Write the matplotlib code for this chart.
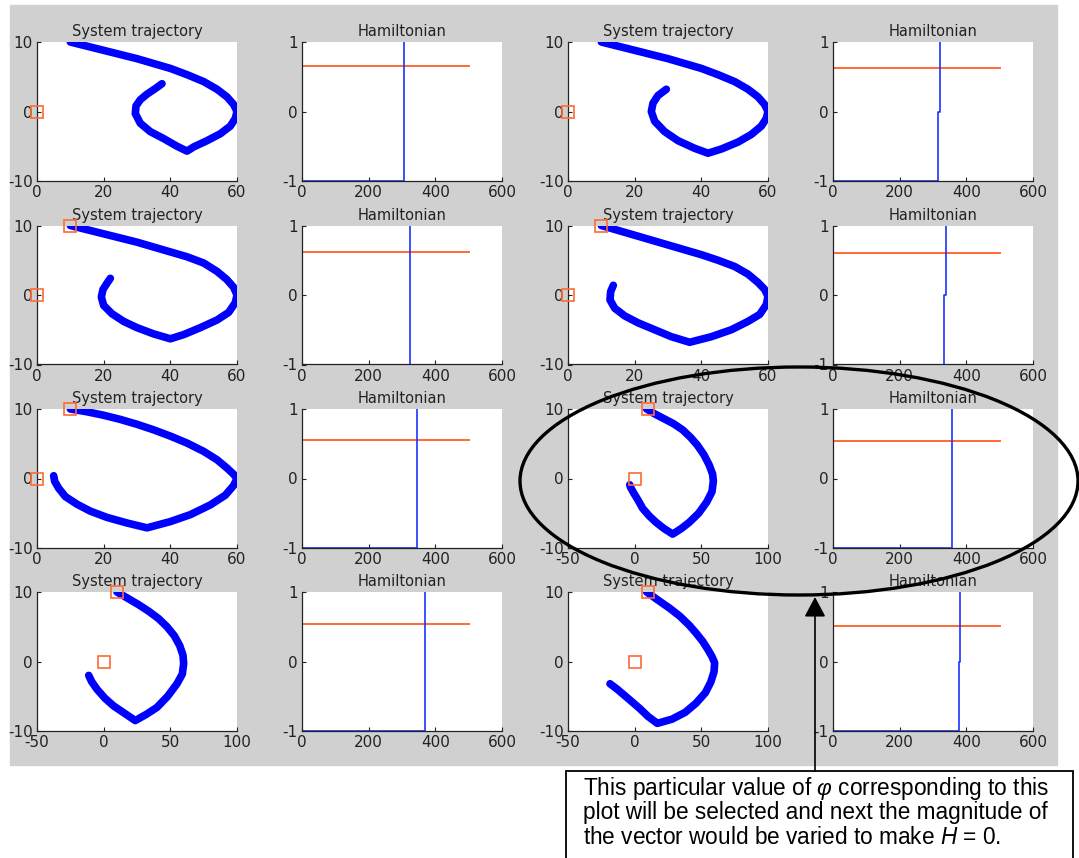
import matplotlib
matplotlib.use("Agg")
import matplotlib.pyplot as plt
from matplotlib.patches import Rectangle, Ellipse

plt.rcParams["font.family"] = ["DejaVu Sans"]
plt.rcParams["axes.unicode_minus"] = False
plt.rcParams["mathtext.fontset"] = "custom"
plt.rcParams["mathtext.it"] = "Liberation Sans:italic"
plt.rcParams["mathtext.rm"] = "Liberation Sans"

# trajectories, one per "System trajectory" panel (row by row)
traj1_x = [10, 15, 20, 25, 30, 35, 40, 45, 50, 54, 57, 59, 60, 59.5, 58, 55, 51, 47, 45, 42, 38, 34, 31, 29.5, 29.7, 31, 33, 35.5, 37.5]
traj1_y = [10, 9.4, 8.8, 8.2, 7.6, 6.9, 6.2, 5.3, 4.3, 3.2, 2.1, 1.0, 0, -1.0, -2.1, -3.2, -4.2, -5.1, -5.7, -5.0, -3.9, -2.9, -1.7, -0.3, 0.8, 1.7, 2.5, 3.3, 4.0]

traj2_x = [10, 15, 20, 25, 30, 35, 40, 45, 50, 54, 57, 59, 60, 59.5, 58, 55, 51, 46, 42, 38, 33, 29, 26, 25, 25.5, 27, 29.5]
traj2_y = [10, 9.4, 8.8, 8.2, 7.6, 6.9, 6.2, 5.3, 4.3, 3.2, 2.1, 1.0, 0, -1.0, -2.1, -3.3, -4.4, -5.4, -6.0, -5.3, -4.2, -2.9, -1.4, 0, 1.2, 2.3, 3.2]

traj3_x = [10, 15, 20, 25, 30, 35, 40, 45, 50, 54, 57, 59, 60, 59.5, 57.5, 54, 49, 44, 40, 35, 30, 26, 22.5, 20, 19.3, 19.8, 21, 22]
traj3_y = [10, 9.4, 8.8, 8.2, 7.6, 6.9, 6.2, 5.5, 4.6, 3.4, 2.2, 1.1, 0, -1.1, -2.5, -3.6, -4.7, -5.7, -6.3, -5.6, -4.7, -3.8, -2.7, -1.5, -0.3, 0.8, 1.7, 2.4]

traj4_x = [10, 15, 20, 25, 30, 35, 40, 45, 50, 54, 57, 59, 60, 59.5, 57.5, 54, 49, 43, 36.5, 31, 26, 21, 17, 14, 12.6, 12.8, 13.6]
traj4_y = [10, 9.3, 8.6, 7.9, 7.2, 6.5, 5.8, 5.0, 4.1, 3.0, 1.8, 0.8, -0.2, -1.4, -2.8, -3.8, -5.0, -6.0, -6.8, -6.0, -5.0, -4.0, -3.0, -1.9, -0.7, 0.5, 1.4]

traj5_x = [10, 15, 20, 25, 30, 35, 40, 45, 50, 54, 57, 59, 60, 59, 56.5, 52, 46, 40, 33, 27, 21, 16, 12, 8.5, 6.5, 5.3, 5]
traj5_y = [10, 9.6, 9.1, 8.5, 7.8, 7.0, 6.1, 5.1, 3.9, 2.7, 1.5, 0.6, 0, -1.0, -2.4, -3.8, -5.2, -6.2, -7.1, -6.4, -5.6, -4.7, -3.7, -2.6, -1.4, -0.4, 0.4]

traj6_x = [9, 15, 22, 29, 36, 42, 47, 52, 56, 58.5, 59, 58, 54, 48, 41, 35, 28.5, 22, 16, 11, 6, 2.5, -1, -3, -3.7]
traj6_y = [10, 9.3, 8.6, 7.9, 7.0, 5.9, 4.8, 3.4, 1.9, 0.6, -0.4, -1.9, -3.4, -5.0, -6.3, -7.2, -8.0, -7.2, -6.3, -5.4, -4.3, -3.1, -2.0, -1.3, -0.9]

traj7_x = [10, 18, 26, 34, 41, 47.5, 53, 57, 59.5, 60, 59, 55, 48, 40, 32, 23.7, 16, 7.5, 1, -5, -9, -11.2]
traj7_y = [10, 9.1, 8.2, 7.2, 6.2, 5.0, 3.7, 2.3, 0.9, -0.3, -1.8, -3.2, -5.0, -6.6, -7.6, -8.5, -7.5, -6.4, -5.3, -4.0, -2.9, -2.0]

traj8_x = [9, 17, 26, 34, 41, 46, 51, 55, 58, 60, 59.5, 57, 53, 46, 38, 28, 17, 10, 4, -2, -7.5, -13, -18.5]
traj8_y = [10, 8.9, 7.7, 6.5, 5.2, 4.1, 2.9, 1.7, 0.7, -0.2, -1.5, -3.0, -4.5, -6.0, -7.3, -8.3, -8.9, -7.9, -6.8, -5.8, -4.9, -4.0, -3.2]

# square markers: origin and, from the second row on, the starting point
marker_x = [[0], [0], [0, 10], [0, 10], [0, 10], [0, 10], [0, 10], [0, 10]]
marker_y = [[0], [0], [0, 10], [0, 10], [0, 10], [0, 10], [0, 10], [0, 10]]

traj_xlims = [(0, 60), (0, 60), (0, 60), (0, 60), (0, 60), (-50, 100), (-50, 100), (-50, 100)]

# Hamiltonian panels: switching times (lower/upper step) and the constant level
switch_lo = [307, 315, 324, 333, 345, 356, 369, 379]
switch_hi = [307, 320, 324, 339, 345, 357, 369, 381]
h_level = [0.65, 0.63, 0.62, 0.61, 0.56, 0.54, 0.54, 0.51]
t_end = 500

W, H = 1079, 858
fig = plt.figure(figsize=(W / 100, H / 100), dpi=100)


def box(x, y, w, h):
    return [x / W, 1 - (y + h) / H, w / W, h / H]


fig.patches.append(Rectangle((10 / W, 1 - 765 / H), 1047 / W, 760 / H,
                             transform=fig.transFigure, color="#d0d0d0", zorder=-5))

col_x = [37, 302, 568, 833]
row_y = [42, 225.5, 409, 592]
ax_w, ax_h = 200, 139

blue = "#0000ff"
orange = "#ff6a33"


def style(ax):
    for s in ["top", "right"]:
        ax.spines[s].set_visible(False)
    for s in ["left", "bottom"]:
        ax.spines[s].set_color("#222222")
        ax.spines[s].set_linewidth(0.9)
    ax.tick_params(direction="in", length=3, width=0.8, labelsize=11,
                   colors="#222222", pad=3)


trajs = [(traj1_x, traj1_y), (traj2_x, traj2_y), (traj3_x, traj3_y), (traj4_x, traj4_y),
         (traj5_x, traj5_y), (traj6_x, traj6_y), (traj7_x, traj7_y), (traj8_x, traj8_y)]

for k in range(8):
    r, c = k // 2, (k % 2) * 2

    # system trajectory
    ax = fig.add_axes(box(col_x[c], row_y[r], ax_w, ax_h), zorder=2)
    style(ax)
    tx, ty = trajs[k]
    ax.plot(tx, ty, color=blue, lw=5.5, solid_capstyle="round", solid_joinstyle="round")
    ax.plot(marker_x[k], marker_y[k], "s", ms=8.5, mfc="none", mec=orange, mew=1.2,
            clip_on=False, zorder=5)
    ax.set_xlim(*traj_xlims[k])
    ax.set_ylim(-10, 10)
    if traj_xlims[k] == (0, 60):
        ax.set_xticks([0, 20, 40, 60])
    else:
        ax.set_xticks([-50, 0, 50, 100])
    ax.set_yticks([-10, 0, 10])
    ax.set_title("System trajectory", fontsize=10.5, pad=4, color="#222222")

    # hamiltonian
    ax = fig.add_axes(box(col_x[c + 1], row_y[r], ax_w, ax_h), zorder=2)
    style(ax)
    ax.plot([0, t_end], [h_level[k], h_level[k]], color=orange, lw=1.4)
    ax.plot([0, switch_lo[k], switch_lo[k], switch_hi[k], switch_hi[k]],
            [-1, -1, 0, 0, 1.5], color="#1a33ff", lw=1.2)
    ax.set_xlim(0, 600)
    ax.set_ylim(-1, 1)
    ax.set_xticks([0, 200, 400, 600])
    ax.set_yticks([-1, 0, 1])
    ax.set_title("Hamiltonian", fontsize=10.5, pad=4, color="#222222")

# annotation layer
ov = fig.add_axes([0, 0, 1, 1], zorder=10)
ov.set_xlim(0, W)
ov.set_ylim(H, 0)
ov.axis("off")
ov.patch.set_alpha(0)

ov.add_patch(Ellipse((799, 481), 558, 228, fill=False, lw=2.4, ec="black"))
ov.add_patch(Rectangle((566, 771), 507, 100, fc="white", ec="black", lw=1.3))
ov.annotate("", xy=(815, 597), xytext=(815, 771),
            arrowprops=dict(arrowstyle="-|>,head_length=1.22,head_width=0.65",
                            mutation_scale=10, lw=1.2, color="black",
                            shrinkA=0, shrinkB=0))

note = [r"This particular value of $\varphi$ corresponding to this",
        "plot will be selected and next the magnitude of",
        r"the vector would be varied to make $H$ = 0."]
for i, line in enumerate(note):
    ov.text(583, 788 + 25 * i, line, fontsize=16.3, family="Liberation Sans",
            va="center", ha="left", color="black")

fig.savefig("out.png", dpi=100)
